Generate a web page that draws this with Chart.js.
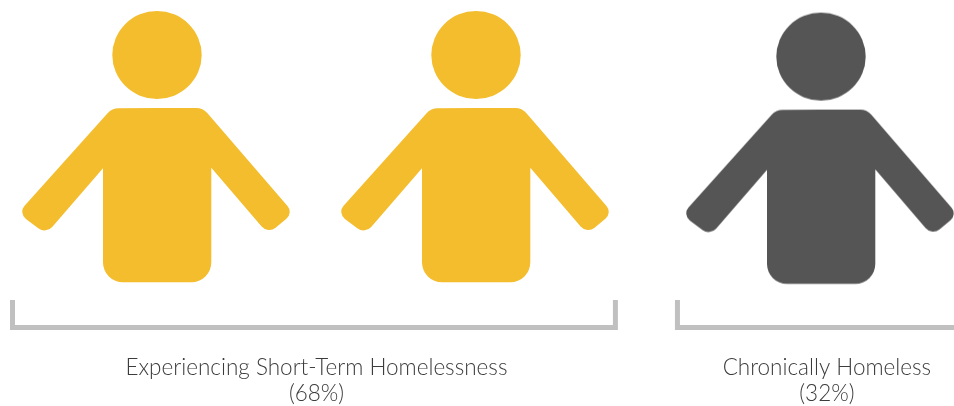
<!DOCTYPE html>
<html lang="en">
  <head>
    <meta charset="UTF-8" />
    <title>Homelessness Duration</title>
    <script src="https://cdn.jsdelivr.net/npm/chart.js"></script>
    <style>
      html, body { margin: 0; background: #fff; }
      #wrap { width: 954px; height: 406px; }
    </style>
  </head>
  <body>
    <div id="wrap"><canvas id="peopleChart"></canvas></div>

    <script>
      const categories = ['Experiencing Short-Term Homelessness', 'Chronically Homeless'];
      const shares = [68, 32];
      const peopleCounts = [2, 1];
      const groupColors = ['#F3BD2E', '#555555'];

      // x axis is measured in person widths, y axis in pixels from the top
      const slotPx = 319;
      const firstPersonPx = 157;
      const groupStarts = [0, 2.0815];
      const labelSlots = [0.5, 2.1];
      const personY = [147, 148.6];
      const bracketPads = [[0.453, 0.437], [0.45, 0.45]];
      const bracketTop = 300;
      const bracketBottom = 327.5;
      const plotBottom = 334;

      // one person icon, origin at the middle of the body
      function personIcon(color) {
        const c = document.createElement('canvas');
        c.width = 300;
        c.height = 300;
        const g = c.getContext('2d');
        g.translate(150, 150);
        g.fillStyle = color;
        g.beginPath();
        g.ellipse(0, -92, 44.7, 44, 0, 0, Math.PI * 2);
        g.fill();

        // the right hand is cut flat in the icon artwork
        g.beginPath();
        g.rect(-150, -150, 284, 300);
        g.clip();

        g.beginPath();
        g.moveTo(0, -39);
        g.arcTo(46, -39, 136.5, 66, 15);
        g.arcTo(136.5, 66, 111, 87, 9);
        g.arcTo(111, 87, 54.3, 20.7, 10);
        g.lineTo(54.3, 20.7);
        g.arcTo(54.3, 135.3, 0, 135.3, 20);
        g.arcTo(-54, 135.3, -54, 21.3, 20);
        g.lineTo(-54, 21.3);
        g.arcTo(-110.9, 87, -139, 66, 10);
        g.arcTo(-139, 66, -45, -38.6, 9);
        g.arcTo(-45, -38.6, 0, -39, 15);
        g.closePath();
        g.fill();
        return c;
      }

      const personSets = categories.map((name, i) => ({
        type: 'scatter',
        label: name,
        data: Array.from({ length: peopleCounts[i] }, (_, k) => ({ x: groupStarts[i] + k, y: personY[i] })),
        pointStyle: personIcon(groupColors[i]),
        pointRadius: 10
      }));

      const bracketSets = categories.map((name, i) => {
        const left = groupStarts[i] - bracketPads[i][0];
        const right = groupStarts[i] + peopleCounts[i] - 1 + bracketPads[i][1];
        return {
          type: 'line',
          label: name + ' bracket',
          data: [
            { x: left, y: bracketTop },
            { x: left, y: bracketBottom },
            { x: right, y: bracketBottom },
            { x: right, y: bracketTop }
          ],
          borderColor: '#C0C0C0',
          borderWidth: 5,
          borderJoinStyle: 'miter',
          borderCapStyle: 'butt',
          pointRadius: 0,
          tension: 0
        };
      });

      new Chart(document.getElementById('peopleChart'), {
        data: { datasets: [...bracketSets, ...personSets] },
        options: {
          responsive: true,
          maintainAspectRatio: false,
          animation: false,
          layout: { padding: 0, autoPadding: false },
          plugins: { legend: { display: false }, tooltip: { enabled: false } },
          scales: {
            x: {
              type: 'linear',
              min: -firstPersonPx / slotPx,
              max: (954 - firstPersonPx) / slotPx,
              grid: { display: false },
              border: { display: false },
              afterBuildTicks: (scale) => { scale.ticks = labelSlots.map((value) => ({ value })); },
              afterFit: (scale) => { scale.height = 406 - plotBottom; },
              ticks: {
                autoSkip: false,
                maxRotation: 0,
                padding: 13,
                color: '#3C3C3C',
                font: { family: 'Lato', size: 22.5, weight: '300', lineHeight: 1.155 },
                callback: (value, i) => [categories[i], '(' + shares[i] + '%)']
              }
            },
            y: { display: false, reverse: true, min: 0, max: plotBottom }
          }
        }
      });
    </script>
  </body>
</html>
